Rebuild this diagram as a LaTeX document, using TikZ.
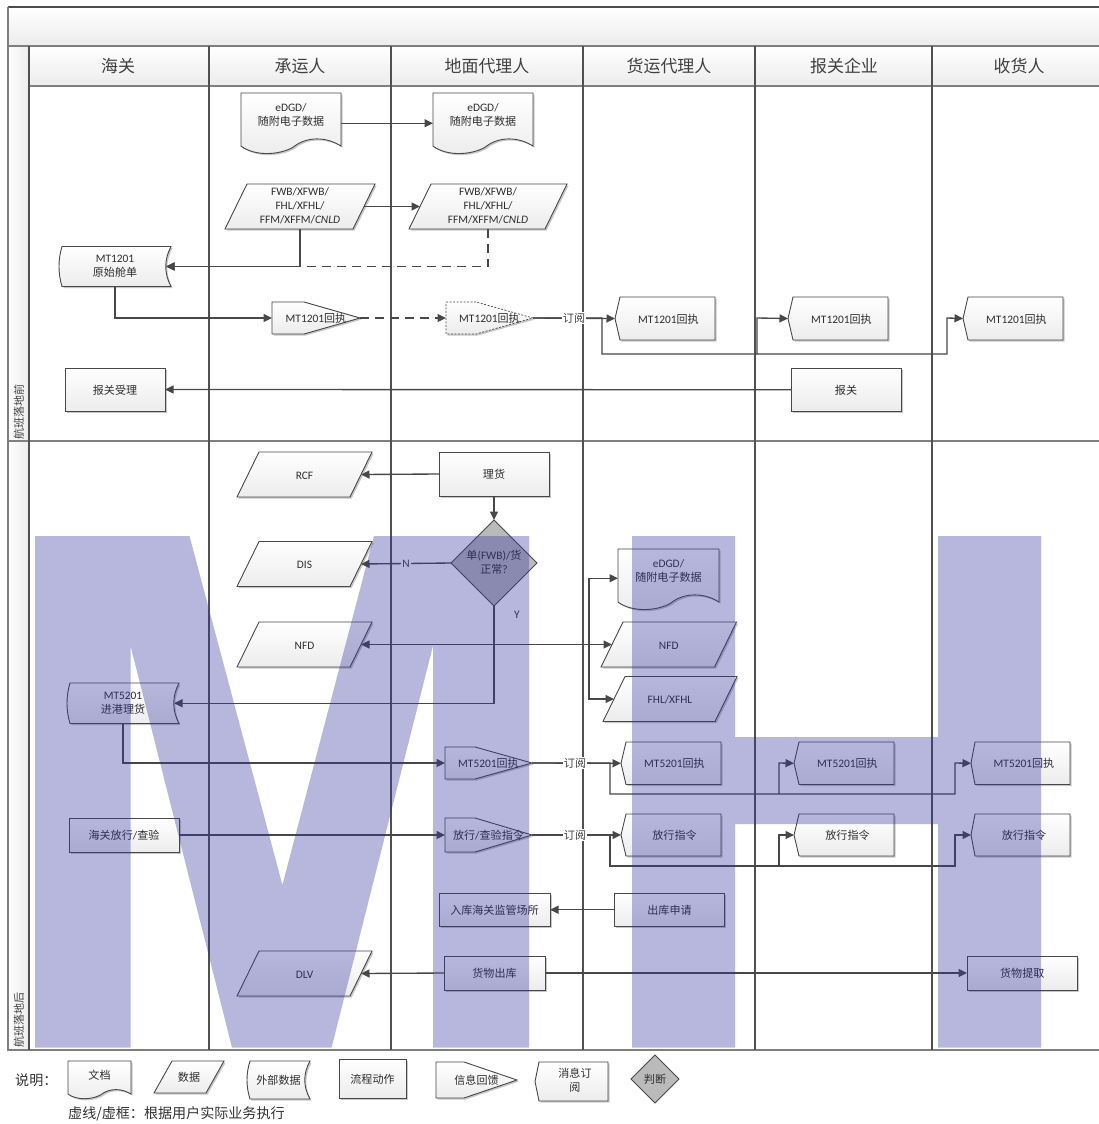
\documentclass[tikz,border=0pt]{standalone}
\usepackage{fontspec}
\setmainfont{Carlito}
\newfontfamily\cjk[Scale=0.97]{Noto Sans CJK SC}
\usetikzlibrary{arrows.meta,calc}
\definecolor{edge}{HTML}{484848}
\definecolor{lane}{HTML}{505050}
\definecolor{frame}{HTML}{7F7F7F}
\definecolor{grad}{HTML}{ECECEC}
\definecolor{wm}{RGB}{49,49,161}
\newcommand\C[1]{{\cjk #1}}
\newcommand\fwcolon{\char"FF1A\relax}
\makeatletter
\newcommand\lines[1]{\in@{\\}{#1}\ifin@\def\lsh{-.5pt}\else\def\lsh{-1.7pt}\fi
  \raisebox{\lsh}[\height][\depth]{\begin{tabular}{@{}c@{}}#1\end{tabular}}}
\makeatother
\tikzset{
  x=1pt,y=-1pt,
  outl/.style={draw=edge,line width=.9pt,top color=white,bottom color=grad},
  shad/.style={fill=black,opacity=.22},
  conn/.style={inner sep=0pt,outer sep=0pt,text=black!82,font=\fontsize{11.4}{14}\selectfont},
  hd/.style={inner sep=0pt,text=black!75,font=\fontsize{17.5}{20}\selectfont\cjk},
  rowlbl/.style={inner sep=0pt,rotate=90,text=black!75,font=\fontsize{11.4}{13}\selectfont\cjk},
  lbl/.style={inner sep=1pt,fill=white,text=black!75,font=\fontsize{11.4}{13}\selectfont},
  note/.style={inner sep=0pt,text=black!80,font=\fontsize{14.5}{16}\selectfont\cjk},
  flow/.style={draw=edge,line width=1.35pt,-{Triangle[length=8.5pt,width=8pt]}},
  dashflow/.style={flow,dash pattern=on 9pt off 6pt},
  lanev/.style={draw=lane,line width=1.1pt},
  frameln/.style={draw=frame,line width=1.2pt},
  dashedbox/.style={line width=.7pt,dash pattern=on 2pt off 1.5pt},
}
% outline + shadow
\newcommand\outline[2][]{%
  \fill[shad,xshift=1.6pt,yshift=-1.6pt] #2;
  \path[outl,#1] #2;}
\newcommand\tagnode[6]{% name x1 y1 x2 y2 text
  \node[conn,minimum width={(#4-(#2))*1pt},minimum height={(#5-(#3))*1pt}] (#1) at ({(#2+#4)/2},{(#3+#5)/2}) {#6};}
% process box
\newcommand\procbox[6]{%
  \outline{(#2,#3) rectangle (#4,#5)}
  \tagnode{#1}{#2}{#3}{#4}{#5}{\lines{#6}}}
% document with wavy foot
\newcommand\docu[6]{%
  \pgfmathsetmacro\ww{#4-#2}\pgfmathsetmacro\hh{#5-#3}
  \outline{(#2,#3) -- (#4,#3) -- (#4,{#3+.87*\hh})
    .. controls ({#4-.14*\ww},{#3+.72*\hh}) and ({#4-.34*\ww},{#3+.70*\hh}) .. ({#2+.52*\ww},{#3+.89*\hh})
    .. controls ({#2+.38*\ww},{#3+1.02*\hh}) and ({#2+.14*\ww},{#3+1.04*\hh}) .. (#2,{#3+.87*\hh}) -- cycle}
  \tagnode{#1}{#2}{#3}{#4}{#3+.73*\hh}{\lines{#6}}}
% parallelogram: name x1 y1 x2 y2 slant text
\newcommand\para[7]{%
  \outline{({#2+#6},#3) -- (#4,#3) -- ({#4-#6},#5) -- (#2,#5) -- cycle}
  \tagnode{#1}{#2+#6/2}{#3}{#4-#6/2}{#5}{\lines{#7}}}
% external data with bulged left and hollow right side
\newcommand\extdata[6]{%
  \pgfmathsetmacro\hh{#5-#3}
  \outline{({#2+3},#3) -- (#4,#3)
    .. controls ({#4-7},{#3+.33*\hh}) and ({#4-7},{#3+.67*\hh}) .. (#4,#5)
    -- ({#2+3},#5)
    .. controls ({#2-1},{#3+.67*\hh}) and ({#2-1},{#3+.33*\hh}) .. cycle}
  \tagnode{#1}{#2}{#3}{#4-5}{#5}{\hspace{5pt}\lines{#6}}}
% right-pointing pentagon: [opts] name x1 y1 shoulder tip y2 text
\newcommand\pentr[7][]{%
  \outline[#1]{(#3,#4) -- (#5,#4) -- (#6,{(#4+#7)/2}) -- (#5,#7) -- (#3,#7) -- cycle}}
\newcommand\pentR[8][]{%
  \pentr[#1]{#2}{#3}{#4}{#5}{#6}{#7}
  \tagnode{#2}{#3}{#4}{#6}{#7}{\lines{#8}}}
% left-pointing tag: name tip y1 shoulder x2 y2 text
\newcommand\pentL[7]{%
  \outline{(#2,{(#3+#6)/2}) -- (#4,#3) -- (#5,#3) -- (#5,#6) -- (#4,#6) -- cycle}
  \tagnode{#1}{#2}{#3}{#5}{#6}{\hspace{7pt}\lines{#7}}}
% decision
\newcommand\decide[5]{% name cx cy half text
  \path[draw=edge,line width=.9pt,fill=black!27] (#2,{#3-#4}) -- ({#2+#4},#3) -- (#2,{#3+#4}) -- ({#2-#4},#3) -- cycle;
  \tagnode{#1}{#2-#4}{#3-#4}{#2+#4}{#3+#4}{\lines{#5}}}
\begin{document}
\begin{tikzpicture}
\useasboundingbox (0,0) rectangle (1099,1124);
\fill[white] (0,0) rectangle (1099,1124);

% ---------- swimlane frame ----------
\path[top color=white,bottom color=grad] (8,7) rectangle (1105,46);
\path[left color=white,right color=grad] (8,46) rectangle (29,1050);
\path[top color=white,bottom color=grad] (29,46) rectangle (1105,86);
\draw[draw=black!70,line width=1.2pt] (8,7) -- (1105,7);
\draw[frameln] (8,7) -- (8,1050) -- (1105,1050);
\draw[frameln] (8,46) -- (1105,46);
\draw[frameln] (29,86) -- (1105,86);
\draw[frameln] (8,441) -- (1105,441);
\foreach \cx in {29,209,391,583,755,932}
  \draw[lanev] (\cx,46) -- (\cx,1050);

\node[hd] (hA) at (118,66) {海关};
\node[hd] (hB) at (300,66) {承运人};
\node[hd] (hC) at (487,66) {地面代理人};
\node[hd] (hD) at (669,66) {货运代理人};
\node[hd] (hE) at (844,66) {报关企业};
\node[hd] (hF) at (1019,66) {收货人};
\node[rowlbl] (rowA) at (19,412) {航班落地前};
\node[rowlbl] (rowB) at (19,1020) {航班落地后};

% ---------- before landing ----------
\docu{dga}{241}{93}{341}{154}{eDGD/\\\C{随附电子数据}}
\docu{dgb}{433}{93}{533}{154}{eDGD/\\\C{随附电子数据}}
\para{fwa}{225}{184}{375}{229}{22}{FWB/XFWB/\\FHL/XFHL/\\FFM/XFFM/\textit{CNLD}}
\para{fwb}{409}{184}{567}{229}{22}{FWB/XFWB/\\FHL/XFHL/\\FFM/XFFM/\textit{CNLD}}
\extdata{mta}{59}{246.5}{171}{286.5}{MT1201\\\C{原始舱单}}
\pentR{pa}{272}{302}{304}{360}{334}{MT1201\C{回执}}
\pentR[dashedbox]{pb}{446}{302}{476}{533}{334}{MT1201\C{回执}}
\pentL{ra}{615}{297}{620}{715}{340}{MT1201\C{回执}}
\pentL{rb}{788}{297}{793}{888}{340}{MT1201\C{回执}}
\pentL{rc}{963}{297}{968}{1063}{340}{MT1201\C{回执}}
\procbox{acc}{65}{368}{165}{411}{\C{报关受理}}
\procbox{dec}{791}{368}{901}{411.5}{\C{报关}}

% ---------- after landing ----------
\para{rcf}{237}{452}{372}{497}{22}{RCF}
\procbox{tally}{439}{452}{549}{496}{\C{理货}}
\decide{chk}{494}{563}{43}{\C{单}(FWB)/\C{货}\\\C{正常}?}
\para{dis}{237}{541.5}{372}{586.5}{22}{DIS}
\para{nfa}{237}{622}{372}{667}{22}{NFD}
\extdata{mtb}{67}{683}{179}{723.5}{MT5201\\\C{进港理货}}
\docu{dgc}{618}{549}{719}{610}{eDGD/\\\C{随附电子数据}}
\para{nfb}{601}{622}{736.5}{667}{22}{NFD}
\para{fhl}{603}{676.5}{737}{721.5}{22}{FHL/XFHL}
\pentR{pc}{445}{747}{475}{532}{779}{MT5201\C{回执}}
\pentR{pd}{445}{818}{475}{532}{852}{\C{放行}/\C{查验指令}}
\procbox{rel}{69}{818}{179}{852}{\C{海关放行}/\C{查验}}
\pentL{rd}{621}{742}{626}{721}{784.5}{MT5201\C{回执}}
\pentL{re}{794}{742}{799}{894}{784.5}{MT5201\C{回执}}
\pentL{rf}{971}{742}{975}{1070}{784.5}{MT5201\C{回执}}
\pentL{rg}{621}{814}{626}{721}{856}{\C{放行指令}}
\pentL{rh}{794}{814}{799}{894}{856}{\C{放行指令}}
\pentL{ri}{971}{814}{975}{1070}{856}{\C{放行指令}}
\procbox{inw}{439}{893}{550}{926.5}{\C{入库海关监管场所}}
\procbox{outq}{614.5}{893}{724.5}{926.5}{\C{出库申请}}
\para{dlv}{237}{951}{372}{996}{22}{DLV}
\procbox{outw}{444}{956}{545}{990}{\C{货物出库}}
\procbox{pick}{967}{956}{1077.5}{990}{\C{货物提取}}

% ---------- connectors ----------
\draw[flow] ([yshift=-8pt]dga.east) -- ([yshift=-8pt]dgb.west);
\draw[flow] (fwa.east) -- (fwb.west);
\draw[dashflow] (fwb.south) |- (mta.east);
\draw[flow] (fwa.south) |- (mta.east);
\draw[flow] ([xshift=2.5pt]mta.south) |- (pa.west);
\draw[dashflow] (pa.east) -- (pb.west);
\draw[flow] (pb.east) -- (ra.west);
\draw[flow] (pb.east) -- (602,318) -- (602,354) -- (757,354) -- (757,318) -- (rb.west);
\draw[flow] (757,354) -- (947,354) -- (947,318) -- (rc.west);
\draw[flow] (dec.west) -- (acc.east);
\draw[flow] (tally.west) -- (rcf.east);
\draw[flow] (tally.south) -- (chk.north);
\draw[flow] (chk.west) -- (dis.east);
\draw[flow] (chk.south) |- (mtb.east);
\draw[flow,{Triangle[length=8.5pt,width=8pt]}-{Triangle[length=8.5pt,width=8pt]}] (nfa.east) -- (nfb.west);
\draw[flow] (589,645) |- ([yshift=-7pt]dgc.west);
\draw[flow] (589,645) |- (fhl.west);
\draw[flow] ([xshift=2.5pt]mtb.south) |- (pc.west);
\draw[flow] (rel.east) -- (pd.west);
\draw[flow] (pc.east) -- (rd.west);
\draw[flow] (pc.east) -- (610,763) -- (610,794) -- (779,794) -- (779,763) -- (re.west);
\draw[flow] (779,794) -- (955,794) -- (955,763) -- (rf.west);
\draw[flow] (pd.east) -- (rg.west);
\draw[flow] (pd.east) -- (610,835) -- (610,866) -- (779,866) -- (779,835) -- (rh.west);
\draw[flow] (779,866) -- (955,866) -- (955,835) -- (ri.west);
\draw[flow] (outq.west) -- (inw.east);
\draw[flow] (outw.west) -- (dlv.east);
\draw[flow] (outw.east) -- (pick.west);

% ---------- connector labels ----------
\node[lbl] (subA) at (574,318) {\C{订阅}};
\node[lbl] (subB) at (575,763) {\C{订阅}};
\node[lbl] (subC) at (575,835) {\C{订阅}};
\node[lbl] (lblN) at (406,563.5) {N};
\node[conn] (lblY) at (517,615) {Y};

% ---------- legend ----------
\node[note,anchor=west] (legA) at (15,1080) {说明\fwcolon};
\docu{lga}{68}{1061}{131}{1099}{\C{文档}}
\para{lgb}{154}{1061}{224}{1093}{18}{\C{数据}}
\extdata{lgc}{247}{1061}{310}{1099}{\C{外部数据}}
\procbox{lgd}{339}{1059}{406}{1098}{\C{流程动作}}
\pentR{lge}{436}{1062}{464}{517}{1098}{\C{信息回馈}}
\pentL{lgf}{535}{1062}{539}{608}{1101}{\C{消息订}\\\C{阅}}
\decide{lgg}{655}{1079}{24}{\C{判断}}
\node[note,anchor=west] (legB) at (68,1114) {虚线/虚框\fwcolon 根据用户实际业务执行};

% ---------- watermark ----------
\fill[wm,opacity=.35] (35,536) -- (189.5,536) -- (282.4,885) -- (374,536) -- (529,536)
  -- (529,1047.5) -- (433,1047.5) -- (433,645.7) -- (331.6,1047.5) -- (232,1047.5)
  -- (130.5,645.7) -- (130.5,1047.5) -- (35,1047.5) -- cycle;
\fill[wm,opacity=.35] (632,536) -- (735,536) -- (735,737) -- (938,737) -- (938,536) -- (1041,536)
  -- (1041,1047.5) -- (938,1047.5) -- (938,824) -- (735,824) -- (735,1047.5) -- (632,1047.5) -- cycle;
\end{tikzpicture}
\end{document}
